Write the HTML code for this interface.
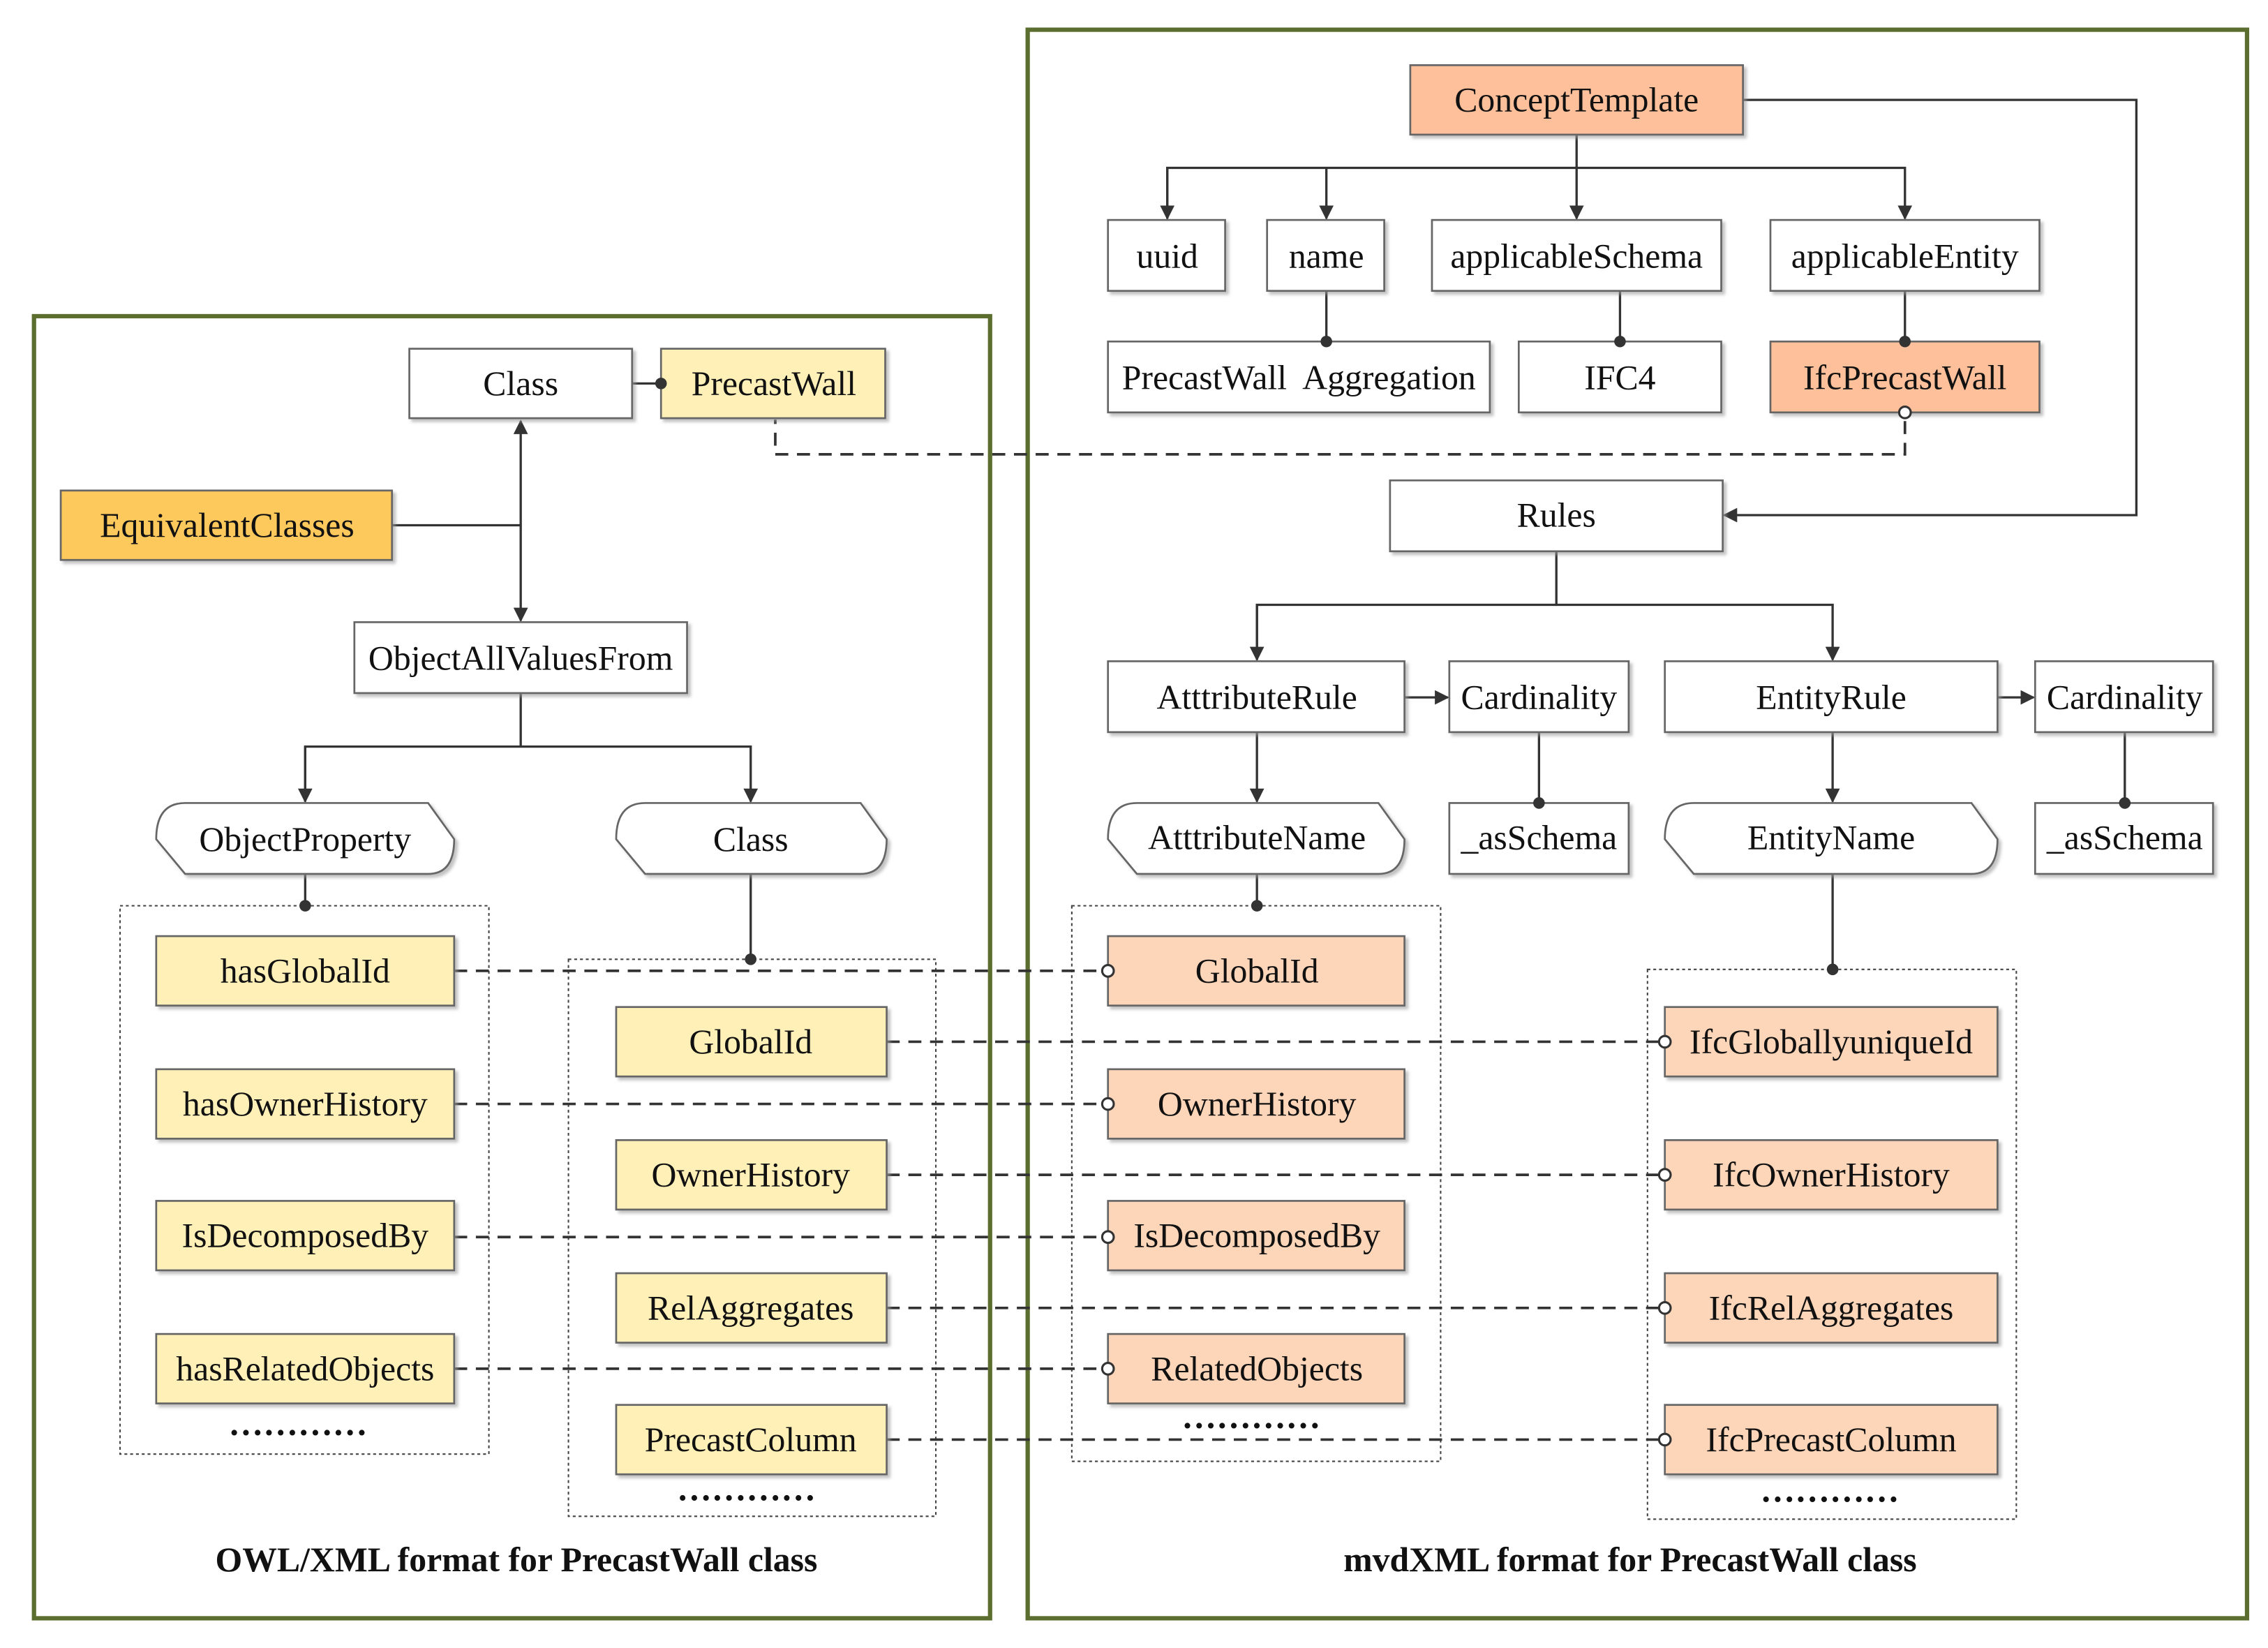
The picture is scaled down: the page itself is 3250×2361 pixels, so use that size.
<!DOCTYPE html>
<html><head><meta charset="utf-8"><style>
html,body{margin:0;padding:0;background:#fff}
svg{display:block}
text{font-family:"Liberation Serif",serif;font-size:24px;fill:#111;text-anchor:middle;dominant-baseline:central}
.b{stroke:#666;stroke-width:1.3}
.l{stroke:#333;stroke-width:1.6;fill:none}
.d{stroke:#333;stroke-width:1.8;fill:none;stroke-dasharray:9 6}
.dot{stroke:#444;stroke-width:1;fill:none;stroke-dasharray:2 2}
.cap{font-weight:bold;font-size:24px}
</style></head><body>
<svg width="3250" height="2361" viewBox="0 0 1568 1139" xmlns="http://www.w3.org/2000/svg">
<defs>
<marker id="a" markerWidth="10" markerHeight="10" refX="9" refY="5" orient="auto" markerUnits="userSpaceOnUse"><path d="M0,0 L10,5 L0,10 z" fill="#333"/></marker>
<filter id="sh"><feDropShadow dx="2" dy="2" stdDeviation="1" flood-color="#999" flood-opacity="0.6"/></filter>
</defs>
<rect x="23.5" y="218.5" width="661" height="900" fill="none" stroke="#5b6e2f" stroke-width="3"/>
<rect x="710.5" y="20.5" width="843" height="1098" fill="none" stroke="#5b6e2f" stroke-width="3"/>

<rect class="dot" x="83" y="626" width="255" height="379"/>
<rect class="dot" x="393" y="663" width="254" height="385"/>
<rect class="dot" x="741" y="626" width="255" height="384"/>
<rect class="dot" x="1139" y="670" width="255" height="380"/>

<line class="l" x1="437" y1="265" x2="457" y2="265"/>
<line class="l" x1="271" y1="363" x2="360" y2="363"/>
<line class="l" x1="360" y1="363" x2="360" y2="291" marker-end="url(#a)"/>
<line class="l" x1="360" y1="363" x2="360" y2="429" marker-end="url(#a)"/>
<polyline class="l" points="360,479 360,516"/>
<polyline class="l" points="211,554 211,516 519,516 519,554" marker-end="url(#a)"/>
<line class="l" x1="211" y1="516" x2="211" y2="554" marker-end="url(#a)"/>
<line class="l" x1="211" y1="604" x2="211" y2="626"/><circle cx="211" cy="626" r="4" fill="#333"/>
<line class="l" x1="519" y1="604" x2="519" y2="663"/><circle cx="519" cy="663" r="4" fill="#333"/>

<line class="l" x1="1090" y1="93" x2="1090" y2="151" marker-end="url(#a)"/>
<polyline class="l" points="807,151 807,116 1317,116 1317,151" marker-end="url(#a)"/>
<line class="l" x1="807" y1="116" x2="807" y2="151" marker-end="url(#a)"/>
<line class="l" x1="917" y1="116" x2="917" y2="151" marker-end="url(#a)"/>
<line class="l" x1="917" y1="201" x2="917" y2="236"/>
<line class="l" x1="1120" y1="201" x2="1120" y2="236"/>
<line class="l" x1="1317" y1="201" x2="1317" y2="236"/>
<polyline class="l" points="1205,69 1477,69 1477,356 1192,356" marker-end="url(#a)"/>
<polyline class="d" points="1317,291 1317,314 536,314 536,290"/>
<line class="l" x1="1076" y1="381" x2="1076" y2="418"/>
<polyline class="l" points="869,456 869,418 1267,418 1267,456" marker-end="url(#a)"/>
<line class="l" x1="869" y1="418" x2="869" y2="456" marker-end="url(#a)"/>
<line class="l" x1="971" y1="482" x2="1001" y2="482" marker-end="url(#a)"/>
<line class="l" x1="1381" y1="482" x2="1406" y2="482" marker-end="url(#a)"/>
<line class="l" x1="869" y1="506" x2="869" y2="554" marker-end="url(#a)"/>
<line class="l" x1="1267" y1="506" x2="1267" y2="554" marker-end="url(#a)"/>
<line class="l" x1="1064" y1="506" x2="1064" y2="555"/>
<line class="l" x1="1469" y1="506" x2="1469" y2="555"/>
<line class="l" x1="869" y1="604" x2="869" y2="626"/><circle cx="869" cy="626" r="4" fill="#333"/>
<line class="l" x1="1267" y1="604" x2="1267" y2="670"/><circle cx="1267" cy="670" r="4" fill="#333"/>

<line class="d" x1="314" y1="671" x2="762" y2="671"/>
<line class="d" x1="314" y1="763" x2="762" y2="763"/>
<line class="d" x1="314" y1="855" x2="762" y2="855"/>
<line class="d" x1="314" y1="946" x2="762" y2="946"/>
<line class="d" x1="613" y1="720" x2="1147" y2="720"/>
<line class="d" x1="613" y1="812" x2="1147" y2="812"/>
<line class="d" x1="613" y1="904" x2="1147" y2="904"/>
<line class="d" x1="613" y1="995" x2="1147" y2="995"/>

<g filter="url(#sh)">
<rect class="b" x="283" y="241" width="154" height="48" fill="#fff"/>
<rect class="b" x="457" y="241" width="155" height="48" fill="#fff0b8"/>
<rect class="b" x="42" y="339" width="229" height="48" fill="#fdc85c"/>
<rect class="b" x="245" y="430" width="230" height="49" fill="#fff"/>
<path class="b" fill="#fff" d="M128,555 L296,555 L314,580 Q314,604 296,604 L128,604 L108,580 Q108,555 128,555 z"/>
<path class="b" fill="#fff" d="M446,555 L595,555 L613,580 Q613,604 595,604 L446,604 L426,580 Q426,555 446,555 z"/>
<g fill="#fff0b8">
<rect class="b" x="108" y="647" width="206" height="48"/>
<rect class="b" x="108" y="739" width="206" height="48"/>
<rect class="b" x="108" y="830" width="206" height="48"/>
<rect class="b" x="108" y="922" width="206" height="48"/>
<rect class="b" x="426" y="696" width="187" height="48"/>
<rect class="b" x="426" y="788" width="187" height="48"/>
<rect class="b" x="426" y="880" width="187" height="48"/>
<rect class="b" x="426" y="971" width="187" height="48"/>
</g>
<rect class="b" x="975" y="45" width="230" height="48" fill="#fdc09a"/>
<rect class="b" x="766" y="152" width="81" height="49" fill="#fff"/>
<rect class="b" x="876" y="152" width="81" height="49" fill="#fff"/>
<rect class="b" x="990" y="152" width="200" height="49" fill="#fff"/>
<rect class="b" x="1224" y="152" width="186" height="49" fill="#fff"/>
<rect class="b" x="766" y="236" width="264" height="49" fill="#fff"/>
<rect class="b" x="1050" y="236" width="140" height="49" fill="#fff"/>
<rect class="b" x="1224" y="236" width="186" height="49" fill="#fdc09a"/>
<rect class="b" x="961" y="332" width="230" height="49" fill="#fff"/>
<rect class="b" x="766" y="457" width="205" height="49" fill="#fff"/>
<rect class="b" x="1002" y="457" width="124" height="49" fill="#fff"/>
<rect class="b" x="1151" y="457" width="230" height="49" fill="#fff"/>
<rect class="b" x="1407" y="457" width="123" height="49" fill="#fff"/>
<path class="b" fill="#fff" d="M786,555 L953,555 L971,580 Q971,604 953,604 L786,604 L766,580 Q766,555 786,555 z"/>
<path class="b" fill="#fff" d="M1171,555 L1363,555 L1381,580 Q1381,604 1363,604 L1171,604 L1151,580 Q1151,555 1171,555 z"/>
<rect class="b" x="1002" y="555" width="124" height="49" fill="#fff"/>
<rect class="b" x="1407" y="555" width="123" height="49" fill="#fff"/>
<g fill="#fdd5b8">
<rect class="b" x="766" y="647" width="205" height="48"/>
<rect class="b" x="766" y="739" width="205" height="48"/>
<rect class="b" x="766" y="830" width="205" height="48"/>
<rect class="b" x="766" y="922" width="205" height="48"/>
<rect class="b" x="1151" y="696" width="230" height="48"/>
<rect class="b" x="1151" y="788" width="230" height="48"/>
<rect class="b" x="1151" y="880" width="230" height="48"/>
<rect class="b" x="1151" y="971" width="230" height="48"/>
</g>
</g>
<g fill="#fff" stroke="#333" stroke-width="1.5">
<circle cx="766" cy="671" r="4"/><circle cx="766" cy="763" r="4"/><circle cx="766" cy="855" r="4"/><circle cx="766" cy="946" r="4"/>
<circle cx="1151" cy="720" r="4"/><circle cx="1151" cy="812" r="4"/><circle cx="1151" cy="904" r="4"/><circle cx="1151" cy="995" r="4"/>
<circle cx="1317" cy="285" r="4"/>
</g>
<g fill="#333">
<circle cx="457" cy="265" r="4"/><circle cx="917" cy="236" r="4"/><circle cx="1120" cy="236" r="4"/><circle cx="1317" cy="236" r="4"/>
<circle cx="1064" cy="555" r="4"/><circle cx="1469" cy="555" r="4"/>
</g>

<text x="360" y="265">Class</text>
<text x="535" y="265">PrecastWall</text>
<text x="157" y="363">EquivalentClasses</text>
<text x="360" y="455">ObjectAllValuesFrom</text>
<text x="211" y="580">ObjectProperty</text>
<text x="519" y="580">Class</text>
<text x="211" y="671">hasGlobalId</text>
<text x="211" y="763">hasOwnerHistory</text>
<text x="211" y="854">IsDecomposedBy</text>
<text x="211" y="946">hasRelatedObjects</text>
<text x="206" y="984" style="font-weight:bold">…………</text>
<text x="519" y="720">GlobalId</text>
<text x="519" y="812">OwnerHistory</text>
<text x="519" y="904">RelAggregates</text>
<text x="519" y="995">PrecastColumn</text>
<text x="516" y="1029" style="font-weight:bold">…………</text>

<text x="1090" y="69">ConceptTemplate</text>
<text x="807" y="177">uuid</text>
<text x="917" y="177">name</text>
<text x="1090" y="177">applicableSchema</text>
<text x="1317" y="177">applicableEntity</text>
<text x="898" y="261" xml:space="preserve">PrecastWall  Aggregation</text>
<text x="1120" y="261">IFC4</text>
<text x="1317" y="261">IfcPrecastWall</text>
<text x="1076" y="356">Rules</text>
<text x="869" y="482">AtttributeRule</text>
<text x="1064" y="482">Cardinality</text>
<text x="1266" y="482">EntityRule</text>
<text x="1469" y="482">Cardinality</text>
<text x="869" y="579">AtttributeName</text>
<text x="1064" y="579">_asSchema</text>
<text x="1266" y="579">EntityName</text>
<text x="1469" y="579">_asSchema</text>
<text x="869" y="671">GlobalId</text>
<text x="869" y="763">OwnerHistory</text>
<text x="869" y="854">IsDecomposedBy</text>
<text x="869" y="946">RelatedObjects</text>
<text x="865" y="979" style="font-weight:bold">…………</text>
<text x="1266" y="720">IfcGloballyuniqueId</text>
<text x="1266" y="812">IfcOwnerHistory</text>
<text x="1266" y="904">IfcRelAggregates</text>
<text x="1266" y="995">IfcPrecastColumn</text>
<text x="1265" y="1030" style="font-weight:bold">…………</text>

<text class="cap" x="357" y="1078">OWL/XML format for PrecastWall class</text>
<text class="cap" x="1127" y="1078">mvdXML format for PrecastWall class</text>
</svg>
</body></html>
